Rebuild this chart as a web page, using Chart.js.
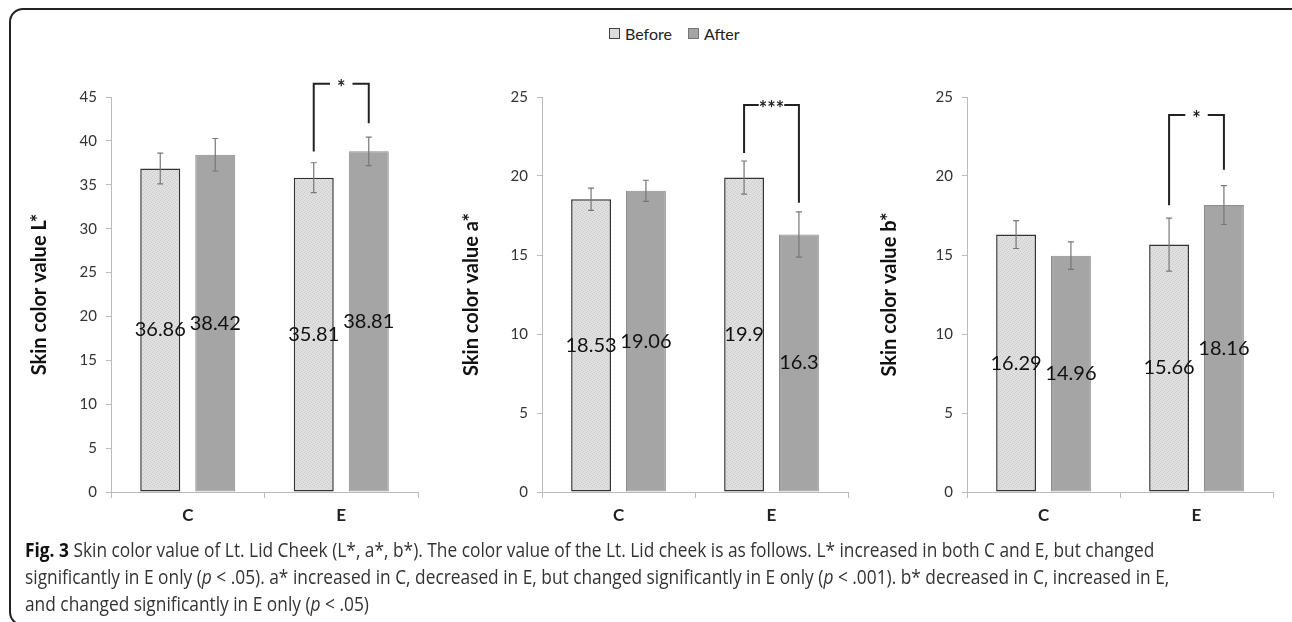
<!DOCTYPE html>
<html>
<head>
<meta charset="utf-8">
<script src="https://cdn.jsdelivr.net/npm/chart.js@4.4.1/dist/chart.umd.min.js"></script>
<style>
    html, body { margin: 0; padding: 0; background: #fff; }
    body { width: 1292px; height: 622px; position: relative; overflow: hidden; font-family: Lato, sans-serif; }
    .frame { position: absolute; left: 9px; top: 8px; width: 1300px; height: 618px; border: 2px solid #222; border-radius: 14px; box-sizing: border-box; }
    .panel { position: absolute; top: 60px; height: 480px; }
    .legend { position: absolute; top: 24px; left: 609px; font-size: 16px; color: #222; display: flex; align-items: center; }
    .legend .box { width: 9px; height: 9px; display: inline-block; border: 1px solid #444; margin-right: 5px; }
    .caption { position: absolute; left: 25px; top: 536px; font-family: "Open Sans", sans-serif; font-size: 20px; line-height: 27px; color: #333; white-space: nowrap; transform: scaleX(0.866); transform-origin: 0 0; }
</style>
</head>
<body>
<div class="frame"></div>
<div class="legend">
    <span class="box" style="background:#dcdcdc"></span><span>Before</span>
    <span class="box" style="background:#a5a5a5;border-color:#777;margin-left:16px"></span><span>After</span>
</div>
<div class="panel" style="left:0;width:440px"><canvas id="chartL"></canvas></div>
<div class="panel" style="left:430px;width:440px"><canvas id="chartA"></canvas></div>
<div class="panel" style="left:855px;width:437px"><canvas id="chartB"></canvas></div>
<div class="caption" id="caption">
    <b style="color:#111">Fig. 3</b> Skin color value of Lt. Lid Cheek (L*, a*, b*). The color value of the Lt. Lid cheek is as follows. L* increased in both C and E, but changed<br>
    significantly in E only (<i>p</i> &lt; .05). a* increased in C, decreased in E, but changed significantly in E only (<i>p</i> &lt; .001). b* decreased in C, increased in E,<br>
    and changed significantly in E only (<i>p</i> &lt; .05)
</div>
<script>
// Groups
const categories = ['C', 'E'];

// L*
const beforeL = [36.86, 35.81];
const afterL = [38.42, 38.81];
const beforeLsd = [1.75, 1.7];
const afterLsd = [1.85, 1.62];

// a*
const beforeA = [18.53, 19.9];
const afterA = [19.06, 16.3];
const beforeAsd = [0.7, 1.05];
const afterAsd = [0.67, 1.43];

// b*
const beforeB = [16.29, 15.66];
const afterB = [14.96, 18.16];
const beforeBsd = [0.88, 1.68];
const afterBsd = [0.87, 1.23];

// y axis max per panel, step 5
const yMaxL = 45;
const yMaxA = 25;
const yMaxB = 25;

// significance bracket over E: [top, left leg end, right leg end]
const bracketL = [46.5, 38.8, 42.0];
const bracketA = [24.5, 21.45, 18.3];
const bracketB = [23.86, 18.15, 20.4];

// fine dotted fill for the "Before" bars
function dotPattern() {
    const c = document.createElement('canvas');
    c.width = 4; c.height = 4;
    const g = c.getContext('2d');
    g.fillStyle = '#e0e0e0';
    g.fillRect(0, 0, 4, 4);
    g.fillStyle = '#cdcdcd';
    g.fillRect(0, 0, 1, 1);
    g.fillRect(2, 1, 1, 1);
    g.fillRect(1, 3, 1, 1);
    g.fillRect(3, 2, 1, 1);
    return g.createPattern(c, 'repeat');
}

// error bars, centre labels and the bracket
const overlay = {
    id: 'overlay',
    afterDatasetsDraw(chart, args, opts) {
        const ctx = chart.ctx;
        const y = chart.scales.y;
        ctx.save();
        chart.data.datasets.forEach((ds, di) => {
            const meta = chart.getDatasetMeta(di);
            meta.data.forEach((bar, i) => {
                const v = ds.data[i];
                const sd = opts.sd[di][i];
                const y1 = y.getPixelForValue(v + sd);
                const y2 = y.getPixelForValue(v - sd);
                ctx.strokeStyle = '#777';
                ctx.lineWidth = 1.2;
                ctx.beginPath();
                ctx.moveTo(bar.x, y1); ctx.lineTo(bar.x, y2);
                ctx.moveTo(bar.x - 3, y1); ctx.lineTo(bar.x + 3, y1);
                ctx.moveTo(bar.x - 3, y2); ctx.lineTo(bar.x + 3, y2);
                ctx.stroke();

                ctx.fillStyle = '#111';
                ctx.font = '20px Lato';
                ctx.textAlign = 'center';
                ctx.textBaseline = 'middle';
                ctx.fillText(String(v), bar.x, (bar.y + bar.base) / 2);
            });
        });

        const b = opts.bracket;
        const xl = chart.getDatasetMeta(0).data[1].x;
        const xr = chart.getDatasetMeta(1).data[1].x;
        const yt = y.getPixelForValue(b[0]);
        const xm = (xl + xr) / 2;
        ctx.font = 'bold 20px Lato';
        const gap = ctx.measureText(opts.stars).width / 2 + (opts.stars.length === 1 ? 7 : 0);
        ctx.strokeStyle = '#222';
        ctx.lineWidth = 2;
        ctx.beginPath();
        ctx.moveTo(xl, y.getPixelForValue(b[1]));
        ctx.lineTo(xl, yt);
        ctx.lineTo(xm - gap, yt);
        ctx.moveTo(xm + gap, yt);
        ctx.lineTo(xr, yt);
        ctx.lineTo(xr, y.getPixelForValue(b[2]));
        ctx.stroke();
        ctx.fillStyle = '#222';
        ctx.textAlign = 'center';
        ctx.textBaseline = 'middle';
        ctx.fillText(opts.stars, xm, yt + 5);
        ctx.restore();
    }
};

function makePanel(id, title, before, after, beforeSd, afterSd, yMax, bracket, stars, padLeft, yWidth, padRight) {
    new Chart(document.getElementById(id), {
        type: 'bar',
        data: {
            labels: categories,
            datasets: [
                { label: 'Before', data: before, backgroundColor: dotPattern(), borderColor: '#333', borderWidth: 1.5, borderSkipped: false },
                { label: 'After', data: after, backgroundColor: '#a5a5a5', borderColor: '#8c8c8c', borderWidth: 1, borderSkipped: false }
            ]
        },
        options: {
            responsive: true,
            maintainAspectRatio: false,
            animation: false,
            categoryPercentage: 0.717,
            barPercentage: 0.727,
            layout: { padding: { left: padLeft, right: padRight, top: 37, bottom: 8 } },
            scales: {
                x: {
                    afterFit: s => { s.height = 40; },
                    grid: { display: true, drawOnChartArea: false, color: '#bbb', tickLength: 6 },
                    border: { color: '#bbb' },
                    ticks: { color: '#222', font: { family: 'Lato', size: 17, weight: 'bold' }, padding: 7 }
                },
                y: {
                    min: 0, max: yMax,
                    afterFit: s => { s.width = yWidth; },
                    grid: { display: true, drawOnChartArea: false, color: '#bbb', tickLength: 5 },
                    border: { color: '#bbb' },
                    ticks: { stepSize: 5, color: '#333', font: { family: 'Lato', size: 15 }, padding: 9 },
                    title: { display: true, text: title, color: '#111', font: { family: 'Lato', size: 20, weight: 'bold' } }
                }
            },
            plugins: {
                legend: { display: false },
                tooltip: { enabled: false },
                overlay: { sd: [beforeSd, afterSd], bracket: bracket, stars: stars }
            }
        },
        plugins: [overlay]
    });
}

makePanel('chartL', 'Skin color value L*', beforeL, afterL, beforeLsd, afterLsd, yMaxL, bracketL, '*', 24, 87, 22);
makePanel('chartA', 'Skin color value a*', beforeA, afterA, beforeAsd, afterAsd, yMaxA, bracketA, '***', 26, 86, 22);
makePanel('chartB', 'Skin color value b*', beforeB, afterB, beforeBsd, afterBsd, yMaxB, bracketB, '*', 19, 93, 19);
</script>
</body>
</html>
